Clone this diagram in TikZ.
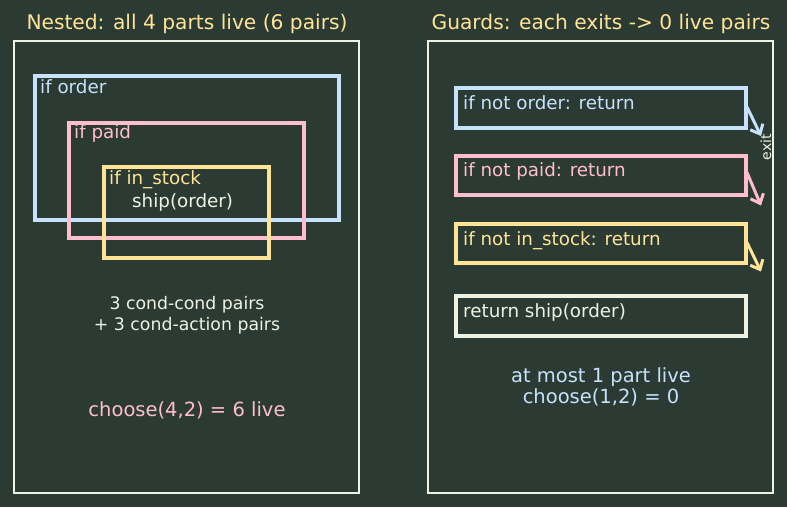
\documentclass[tikz,border=0pt]{standalone}
\usepackage{fontspec}
\setmainfont{DejaVu Sans}
\usetikzlibrary{arrows.meta}
\definecolor{bg}{RGB}{43,59,51}
\definecolor{cblue}{RGB}{198,226,252}
\definecolor{cpink}{RGB}{255,190,205}
\definecolor{cyel}{RGB}{255,228,150}
\definecolor{cwhite}{RGB}{238,243,228}
\tikzset{
  panel/.style={draw=cwhite, line width=2pt},
  nbox/.style={line width=4pt},
  gbox/.style={line width=3.5pt, anchor=north west, minimum width=290pt, inner sep=0pt, outer sep=0pt},
  lbl/.style={anchor=base west, inner sep=0pt, font=\fontsize{18.3}{21}\selectfont},
  ctext/.style={anchor=base, inner sep=0pt, font=\fontsize{17.3}{20}\selectfont},
  btext/.style={anchor=base, inner sep=0pt, font=\fontsize{19.5}{22}\selectfont},
  ttl/.style={anchor=base, inner sep=0pt, text=cyel, font=\fontsize{20.2}{24}\selectfont},
  exitarrow/.style={line width=3pt, -{Straight Barb[length=8pt,width=14pt]}}
}
\begin{document}
\begin{tikzpicture}[x=1pt,y=-1pt]
\useasboundingbox[fill=bg] (0,0) rectangle (787,507);
% titles
\node[ttl] (t1) at (187,29) {Nested: all 4 parts live (6 pairs)};
\node[ttl] (t2) at (601,29) {Guards: each exits -> 0 live pairs};
% panels
\draw[panel] (14,41) rectangle (359,493);
\draw[panel] (428,41) rectangle (773,493);
% nested boxes
\draw[nbox, draw=cblue] (35,76) rectangle (339,220);
\draw[nbox, draw=cpink] (69,123) rectangle (304,238);
\draw[nbox, draw=cyel] (104,167) rectangle (269,258);
\node[lbl, text=cblue] (l1) at (40,93) {if order};
\node[lbl, text=cpink] (l2) at (74,138) {if paid};
\node[lbl, text=cyel] (l3) at (109,184) {if in\_stock};
\node[lbl, text=cwhite] (l4) at (132,207) {ship(order)};
\node[ctext, text=cwhite] (c1) at (187,309) {3 cond-cond pairs};
\node[ctext, text=cwhite] (c2) at (187,330) {+ 3 cond-action pairs};
\node[btext, text=cpink] (c3) at (187,416) {choose(4,2) = 6 live};
% guard boxes
\node[gbox, draw=cblue, minimum height=40pt] (g1) at (456,88) {};
\node[gbox, draw=cpink, minimum height=39pt] (g2) at (456,156) {};
\node[gbox, draw=cyel, minimum height=39pt] (g3) at (456,224) {};
\node[gbox, draw=cwhite, minimum height=40pt] (g4) at (456,296) {};
\node[lbl, text=cblue] (gl1) at (463,109) {if not order: return};
\node[lbl, text=cpink] (gl2) at (463,176) {if not paid: return};
\node[lbl, text=cyel] (gl3) at (463,245) {if not in\_stock: return};
\node[lbl, text=cwhite] (gl4) at (463,317) {return ship(order)};
% exit arrows
\coordinate (e1) at ([shift={(15,28)}]g1.east);
\coordinate (e2) at ([shift={(15,30)}]g2.east);
\coordinate (e3) at ([shift={(15,28)}]g3.east);
\draw[exitarrow, draw=cblue] ([shift={(1,-1)}]g1.east) -- (e1);
\draw[exitarrow, draw=cpink] ([shift={(1,-3)}]g2.east) -- (e2);
\draw[exitarrow, draw=cyel] ([shift={(1,-1)}]g3.east) -- (e3);
\node[rotate=90, inner sep=0pt, text=cwhite, font=\fontsize{14}{16}\selectfont] (ex) at (766,147) {exit};
% bottom text
\node[btext, text=cblue] (b1) at (601,382) {at most 1 part live};
\node[btext, text=cblue] (b2) at (601,403) {choose(1,2) = 0};
\end{tikzpicture}
\end{document}
